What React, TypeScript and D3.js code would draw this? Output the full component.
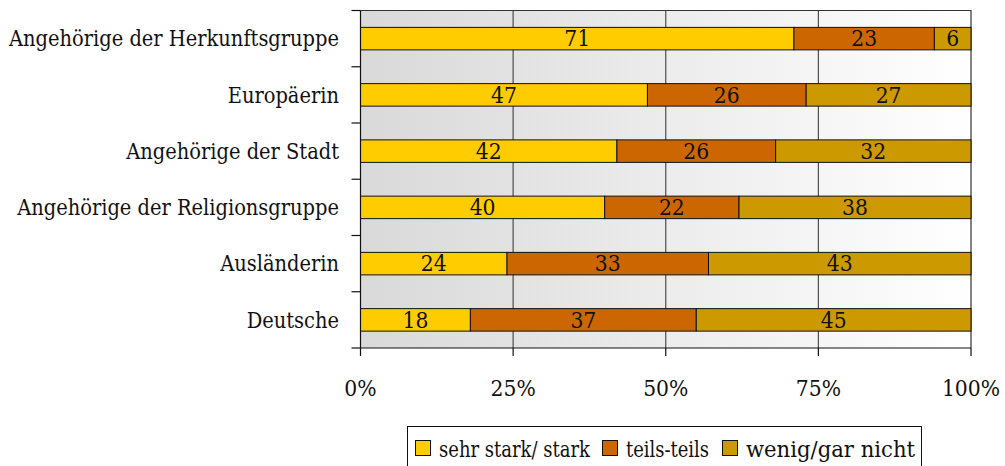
import React, { useEffect, useRef } from "react";
import * as d3 from "d3";

const categories = [
  "Angehörige der Herkunftsgruppe",
  "Europäerin",
  "Angehörige der Stadt",
  "Angehörige der Religionsgruppe",
  "Ausländerin",
  "Deutsche",
];
const sehrStark = [71, 47, 42, 40, 24, 18];
const teilsTeils = [23, 26, 26, 22, 33, 37];
const wenig = [6, 27, 32, 38, 43, 45];
const seriesNames = ["sehr stark/ stark", "teils-teils", "wenig/gar nicht"];
const seriesColors = ["#FFCC00", "#CC6600", "#CC9900"];
const tickValues = [0, 25, 50, 75, 100];

const W = 1005;
const H = 466;
const FONT = "'DejaVu Serif Condensed', 'DejaVu Serif', serif";

export default function App() {
  const ref = useRef<SVGSVGElement | null>(null);

  useEffect(() => {
    const svg = d3.select(ref.current);
    svg.selectAll("*").remove();

    const probe = svg.append("text").attr("font-family", FONT).attr("font-size", 20).text(categories[0]);
    const w20 = (probe.node() as SVGTextElement).getComputedTextLength();
    probe.remove();
    const FS = Math.max(14, Math.min(22, (20 * 330) / (w20 || 330)));

    const left = 360.5, right = 971, top = 10.5, bottom = 348;
    const x = d3.scaleLinear().domain([0, 100]).range([left, right]);
    const y = d3.scaleBand<string>().domain(categories).range([top, bottom]).paddingInner(0.6).paddingOuter(0.3);
    const yb = d3.scaleBand<string>().domain(categories).range([top, bottom]);

    const defs = svg.append("defs");
    const grad = defs.append("linearGradient").attr("id", "bg").attr("x1", "0%").attr("x2", "100%").attr("y1", "0%").attr("y2", "0%");
    grad.append("stop").attr("offset", "0%").attr("stop-color", "#d9d9d9");
    grad.append("stop").attr("offset", "100%").attr("stop-color", "#ffffff");

    svg.append("rect").attr("x", left).attr("y", top).attr("width", right - left).attr("height", bottom - top).attr("fill", "url(#bg)");

    svg.append("g").selectAll("line").data([25, 50, 75]).join("line")
      .attr("x1", (d) => x(d)).attr("x2", (d) => x(d)).attr("y1", top).attr("y2", bottom)
      .attr("stroke", "#4d4d4d").attr("stroke-width", 1.2);

    svg.append("path").attr("d", `M${left},${top}H${right}V${bottom}`).attr("fill", "none").attr("stroke", "#333").attr("stroke-width", 1.2);

    const rows = categories.map((c, i) => ({ c, vals: [sehrStark[i], teilsTeils[i], wenig[i]] }));
    const g = svg.append("g");
    rows.forEach((r) => {
      let acc = 0;
      r.vals.forEach((v, k) => {
        const x0 = x(acc), x1 = x(acc + v);
        g.append("rect").attr("x", x0).attr("y", y(r.c)!).attr("width", x1 - x0).attr("height", y.bandwidth())
          .attr("fill", seriesColors[k]).attr("stroke", "#111").attr("stroke-width", 1);
        g.append("text").attr("x", (x0 + x1) / 2).attr("y", y(r.c)! + y.bandwidth() / 2 + FS * 0.36)
          .attr("text-anchor", "middle").attr("font-family", FONT).attr("font-size", FS + 1).attr("fill", "#111")
          .text(String(v));
        acc += v;
      });
    });

    svg.append("line").attr("x1", left).attr("x2", left).attr("y1", top).attr("y2", bottom).attr("stroke", "#111").attr("stroke-width", 1.2);
    svg.append("line").attr("x1", left).attr("x2", right).attr("y1", bottom).attr("y2", bottom).attr("stroke", "#111").attr("stroke-width", 1.2);
    const bounds = categories.map((c) => yb(c)!).concat([bottom]);
    svg.append("g").selectAll("line").data(bounds).join("line")
      .attr("x1", left - 9).attr("x2", left).attr("y1", (d) => d).attr("y2", (d) => d).attr("stroke", "#111").attr("stroke-width", 1.2);
    svg.append("g").selectAll("line").data(tickValues).join("line")
      .attr("x1", (d) => x(d)).attr("x2", (d) => x(d)).attr("y1", bottom).attr("y2", bottom + 8).attr("stroke", "#111").attr("stroke-width", 1.2);
    svg.append("g").selectAll("text").data(tickValues).join("text")
      .attr("x", (d) => x(d)).attr("y", 396).attr("text-anchor", "middle")
      .attr("font-family", FONT).attr("font-size", FS + 1).attr("fill", "#111").text((d) => `${d}%`);

    svg.append("g").selectAll("text").data(categories).join("text")
      .attr("x", 339).attr("y", (d) => yb(d)! + yb.bandwidth() / 2 + FS * 0.36).attr("text-anchor", "end")
      .attr("font-family", FONT).attr("font-size", FS).attr("fill", "#111").text((d) => d);

    svg.append("rect").attr("x", 407.5).attr("y", 426.5).attr("width", 514).attr("height", 50).attr("fill", "#fff").attr("stroke", "#111").attr("stroke-width", 1);
    const legX = [415, 602, 722];
    const textEnd = [590, 709, 915];
    seriesNames.forEach((n, k) => {
      svg.append("rect").attr("x", legX[k] + 0.5).attr("y", 440.5).attr("width", 15).attr("height", 15)
        .attr("fill", seriesColors[k]).attr("stroke", "#111").attr("stroke-width", 1);
      svg.append("text").attr("x", legX[k] + 24).attr("y", 457).attr("font-family", FONT).attr("font-size", FS).attr("fill", "#111")
        .attr("textLength", textEnd[k] - legX[k] - 24).attr("lengthAdjust", "spacingAndGlyphs").text(n);
    });
  }, []);

  return (
    <svg ref={ref} width={W} height={H} style={{ position: "absolute", left: 0, top: 0 }} />
  );
}
